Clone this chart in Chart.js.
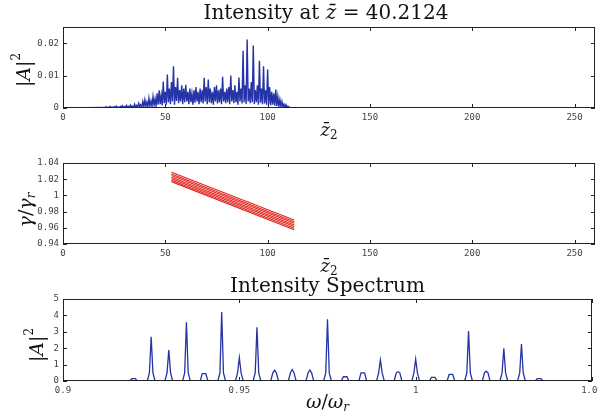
<!DOCTYPE html>
<html>
<head>
<meta charset="utf-8">
<script src="https://cdn.jsdelivr.net/npm/chart.js@4.4.1/dist/chart.umd.min.js"></script>
<style>
  body { margin: 0; background: #fff; }
  #wrap { position: relative; width: 597px; height: 420px; }
  canvas { position: absolute; left: 0; }
</style>
</head>
<body>
<div id="wrap">
  <canvas id="canvasPulse" width="597" height="140" style="top:0"></canvas>
  <canvas id="canvasGamma" width="597" height="135" style="top:140px"></canvas>
  <canvas id="canvasSpec" width="597" height="145" style="top:275px"></canvas>
</div>
<script>
// |A|^2 along z2 : one high sample at each integer z2 (from 20), one low sample half a step later
const pulseStart = 20;
const pulseHigh = [
  0.0002,0.0004,0.0003,0.0005,0.0003,0.0004,0.0006,0.0003,0.0005,0.0007,
  0.0004,0.0008,0.0005,0.0009,0.0006,0.0012,0.0008,0.0015,0.0010,0.0020,
  0.0025,0.0018,0.0030,0.0022,0.0035,0.0028,0.0045,0.0055,0.0040,0.0082,
  0.0050,0.0103,0.0060,0.0080,0.0129,0.0065,0.0093,0.0055,0.0070,0.0060,
  0.0072,0.0050,0.0060,0.0045,0.0055,0.0065,0.0050,0.0060,0.0055,0.0093,
  0.0065,0.0088,0.0060,0.0050,0.0065,0.0070,0.0055,0.0060,0.0096,0.0050,
  0.0060,0.0065,0.0100,0.0055,0.0070,0.0050,0.0094,0.0060,0.0177,0.0070,
  0.0211,0.0060,0.0080,0.0193,0.0055,0.0070,0.0146,0.0060,0.0129,0.0055,
  0.0119,0.0065,0.0050,0.0045,0.0057,0.0035,0.0026,0.0020,0.0012,0.0010,
  0.0005,0.0002
];
const pulseLow = [
  0,0.0001,0,0.0001,0.0001,0,0.0001,0.0001,0.0001,0.0002,
  0.0001,0.0002,0.0001,0.0002,0.0002,0.0003,0.0002,0.0004,0.0003,0.0004,
  0.0005,0.0004,0.0006,0.0005,0.0008,0.0006,0.0010,0.0012,0.0008,0.0015,
  0.0010,0.0018,0.0012,0.0020,0.0010,0.0022,0.0015,0.0020,0.0012,0.0018,
  0.0020,0.0012,0.0018,0.0010,0.0016,0.0020,0.0012,0.0018,0.0014,0.0020,
  0.0012,0.0018,0.0015,0.0010,0.0020,0.0014,0.0018,0.0012,0.0020,0.0015,
  0.0018,0.0012,0.0020,0.0015,0.0018,0.0010,0.0020,0.0014,0.0018,0.0012,
  0.0020,0.0015,0.0018,0.0012,0.0018,0.0010,0.0016,0.0012,0.0014,0.0010,
  0.0012,0.0008,0.0010,0.0007,0.0006,0.0005,0.0004,0.0003,0.0002,0.0002,
  0.0001,0
];

// gamma/gamma_r of the particle bunch: straight lines from z2 = 53 to z2 = 113
const gammaZ = [53, 113];
const gammaStart = [1.0285, 1.0265, 1.0245, 1.0225, 1.0205, 1.0187, 1.0170];
const gammaEnd   = [0.9695, 0.9675, 0.9655, 0.9635, 0.9615, 0.9595, 0.9575];

// spectrum lines
const peakFreq = [0.92,0.925,0.93,0.935,0.94,0.945,0.95,0.955,0.96,0.965,0.97,0.975,
                  0.98,0.985,0.99,0.995,1.0,1.005,1.01,1.015,1.02,1.025,1.03,1.035];
const peakHeight = [0.15,2.7,1.88,3.58,0.45,4.2,1.43,3.27,0.66,0.7,0.67,3.76,
                    0.26,0.5,1.28,0.57,1.34,0.22,0.4,3.05,0.6,2.0,2.25,0.15];

const serif = '"DejaVu Serif"';
const tickFont = { family: '"DejaVu Sans Mono"', size: 9 };
const blue = '#2534a6';
const red = '#e3231c';

// draws a row of text pieces centred on x (pieces may be shifted up/down)
function drawParts(ctx, parts, x, y) {
  let w = 0;
  parts.forEach(p => { ctx.font = p.font; w += ctx.measureText(p.text).width; });
  let cx = x - w / 2;
  parts.forEach(p => {
    ctx.font = p.font;
    ctx.fillText(p.text, cx, y + (p.dy || 0));
    cx += ctx.measureText(p.text).width;
  });
}

function drawRotated(ctx, parts, x, y) {
  ctx.save();
  ctx.translate(x, y);
  ctx.rotate(-Math.PI / 2);
  drawParts(ctx, parts, 0, 0);
  ctx.restore();
}

const absA2 = [
  { text: '|', font: '19px ' + serif },
  { text: 'A', font: 'italic 19px ' + serif },
  { text: '|', font: '19px ' + serif },
  { text: '2', font: '12px ' + serif, dy: -8 }
];
const zBar2 = [
  { text: 'z\u0304', font: 'italic 18px ' + serif },
  { text: '2', font: '12px ' + serif, dy: 5 }
];

// box round the plot with inward ticks on all four sides
const frame = {
  id: 'frame',
  afterDraw(chart) {
    const { ctx, chartArea: a, scales } = chart;
    ctx.save();
    ctx.strokeStyle = '#222';
    ctx.lineWidth = 1;
    ctx.strokeRect(Math.round(a.left) + 0.5, Math.round(a.top) + 0.5,
                   Math.round(a.right - a.left) - 1, Math.round(a.bottom - a.top) - 1);
    ctx.beginPath();
    scales.x.ticks.forEach(t => {
      const px = Math.round(scales.x.getPixelForValue(t.value)) + 0.5;
      ctx.moveTo(px, a.bottom); ctx.lineTo(px, a.bottom - 4);
      ctx.moveTo(px, a.top); ctx.lineTo(px, a.top + 4);
    });
    scales.y.ticks.forEach(t => {
      const py = Math.round(scales.y.getPixelForValue(t.value)) + 0.5;
      ctx.moveTo(a.left, py); ctx.lineTo(a.left + 4, py);
      ctx.moveTo(a.right, py); ctx.lineTo(a.right - 4, py);
    });
    ctx.stroke();
    ctx.restore();
  }
};

function texts(draw) {
  return {
    id: 'texts',
    afterDraw(chart) {
      const ctx = chart.ctx;
      ctx.save();
      ctx.fillStyle = '#111';
      ctx.textBaseline = 'middle';
      draw(ctx, chart.chartArea);
      ctx.restore();
    }
  };
}

const fmt = v => String(+Number(v).toFixed(4));

function baseOptions(x, y, pad, yWidth) {
  return {
    responsive: false,
    animation: false,
    events: [],
    layout: { autoPadding: false, padding: pad },
    plugins: { legend: { display: false }, tooltip: { enabled: false } },
    scales: {
      x: Object.assign({
        type: 'linear',
        grid: { display: false, drawTicks: false },
        border: { display: false },
        afterFit(s) { s.height = 20; s.paddingLeft = 0; s.paddingRight = 0; }
      }, x, {
        ticks: Object.assign({ includeBounds: false, padding: 4, font: tickFont, color: '#444',
                               maxRotation: 0, autoSkip: false, callback: fmt }, x.ticks)
      }),
      y: Object.assign({
        type: 'linear',
        grid: { display: false, drawTicks: false },
        border: { display: false },
        afterFit(s) { s.width = yWidth; s.paddingTop = 0; s.paddingBottom = 0; }
      }, y, {
        ticks: Object.assign({ includeBounds: false, padding: 4, font: tickFont, color: '#444',
                               autoSkip: false, callback: fmt }, y.ticks)
      })
    }
  };
}

// --- top: intensity along the bunch
const pulsePoints = [{ x: 0, y: 0 }];
pulseHigh.forEach((h, i) => {
  pulsePoints.push({ x: pulseStart + i, y: h });
  pulsePoints.push({ x: pulseStart + i + 0.5, y: pulseLow[i] });
});

new Chart(document.getElementById('canvasPulse'), {
  type: 'line',
  data: { datasets: [{ data: pulsePoints, borderColor: blue, borderWidth: 1.4, pointRadius: 0, tension: 0 }] },
  options: baseOptions(
    { min: 0, max: 260, ticks: { stepSize: 50 } },
    { min: 0, max: 0.025, ticks: { stepSize: 0.01 } },
    { top: 27, bottom: 12, left: 0, right: 2 }, 63),
  plugins: [frame, texts((ctx, a) => {
    const cx = (a.left + a.right) / 2;
    drawParts(ctx, [
      { text: 'Intensity at ', font: '20px ' + serif },
      { text: 'z\u0304', font: 'italic 20px ' + serif },
      { text: ' = 40.2124', font: '20px ' + serif }
    ], cx - 3, 14);
    drawParts(ctx, zBar2, cx, 131);
    drawRotated(ctx, absA2, 25, 70);
  })]
});

// --- middle: energy of the particles
const gammaSets = gammaStart.map((g, i) => ({
  data: [{ x: gammaZ[0], y: g }, { x: gammaZ[1], y: gammaEnd[i] }],
  borderColor: red, borderWidth: 1.1, pointRadius: 0
}));

new Chart(document.getElementById('canvasGamma'), {
  type: 'line',
  data: { datasets: gammaSets },
  options: baseOptions(
    { min: 0, max: 260, ticks: { stepSize: 50 } },
    { min: 0.94, max: 1.04, ticks: { stepSize: 0.02 } },
    { top: 23, bottom: 11, left: 0, right: 2 }, 63),
  plugins: [frame, texts((ctx, a) => {
    const cx = (a.left + a.right) / 2;
    drawParts(ctx, zBar2, cx, 127);
    drawRotated(ctx, [
      { text: '\u03b3', font: 'italic 19px ' + serif },
      { text: '/', font: '19px ' + serif },
      { text: '\u03b3', font: 'italic 19px ' + serif },
      { text: 'r', font: 'italic 12px ' + serif, dy: 5 }
    ], 27, 70);
  })]
});

// --- bottom: spectrum
const specPoints = [{ x: 0.9, y: 0 }];
peakFreq.forEach((f, i) => {
  const h = peakHeight[i];
  specPoints.push({ x: f - 0.0011, y: 0 });
  specPoints.push({ x: f - 0.0005, y: Math.min(h, 0.5) });
  specPoints.push({ x: f, y: h });
  specPoints.push({ x: f + 0.0005, y: Math.min(h, 0.5) });
  specPoints.push({ x: f + 0.0011, y: 0 });
});
specPoints.push({ x: 1.05, y: 0 });

new Chart(document.getElementById('canvasSpec'), {
  type: 'line',
  data: { datasets: [{ data: specPoints, borderColor: blue, borderWidth: 1.3, pointRadius: 0, tension: 0 }] },
  options: baseOptions(
    { min: 0.9, max: 1.05, ticks: { stepSize: 0.05 } },
    { min: 0, max: 5, ticks: { stepSize: 1 } },
    { top: 24, bottom: 19, left: 0, right: 5 }, 63),
  plugins: [frame, texts((ctx, a) => {
    const cx = (a.left + a.right) / 2;
    drawParts(ctx, [{ text: 'Intensity Spectrum', font: '20px ' + serif }], cx, 12);
    drawParts(ctx, [
      { text: '\u03c9', font: 'italic 19px ' + serif },
      { text: '/', font: '19px ' + serif },
      { text: '\u03c9', font: 'italic 19px ' + serif },
      { text: 'r', font: 'italic 12px ' + serif, dy: 5 }
    ], cx, 128);
    drawRotated(ctx, absA2, 38, 70);
  })]
});
</script>
</body>
</html>
